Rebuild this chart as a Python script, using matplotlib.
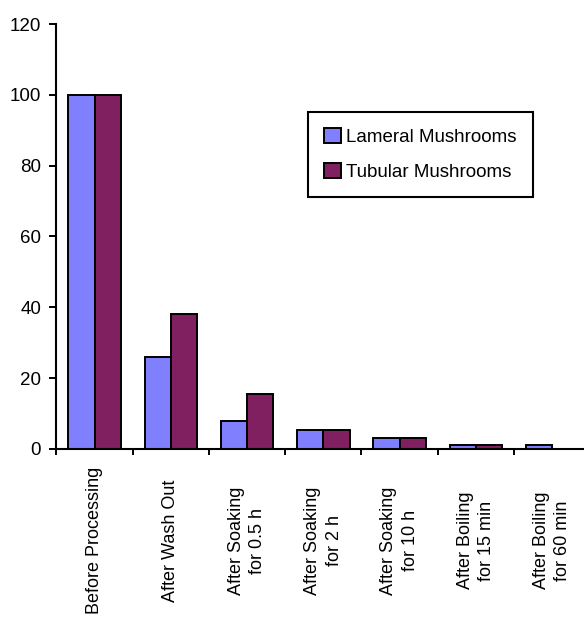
import matplotlib.pyplot as plt
import numpy as np

plt.rcParams['font.family'] = ['Liberation Sans', 'DejaVu Sans']
plt.rcParams['font.size'] = 13.5

stages = ["Before Processing", "After Wash Out", "After Soaking\nfor 0.5 h",
          "After Soaking\nfor 2 h", "After Soaking\nfor 10 h",
          "After Boiling\nfor 15 min", "After Boiling\nfor 60 min"]
lameral = [100, 26, 8, 5.3, 3, 1.1, 1.1]
tubular = [100, 38, 15.5, 5.3, 3, 1.1, 0]

fig = plt.figure(figsize=(5.84, 6.17), dpi=100)
ax = fig.add_axes([0.0967, 0.2723, 0.914, 0.6888])

x = np.arange(len(stages))
w = 0.345
ax.bar(x - w / 2, lameral, w, color="#8080ff", edgecolor="black", linewidth=1.4,
       label="Lameral Mushrooms")
ax.bar(x + w / 2, tubular, w, color="#802060", edgecolor="black", linewidth=1.4,
       label="Tubular Mushrooms")

ax.set_xlim(-0.5, len(stages) - 0.5)
ax.set_ylim(0, 120)
ax.set_yticks(range(0, 121, 20))

ax.set_xticks(x)
ax.set_xticklabels(stages, rotation=90, va="center", ha="center", multialignment="center",
                   fontsize=13, linespacing=1.35)
ax.set_xticks(np.arange(len(stages)) - 0.5, minor=True)
ax.tick_params(axis="x", which="major", length=0, pad=66)
ax.tick_params(axis="x", which="minor", length=4.5, width=1.4, direction="out")
ax.tick_params(axis="y", length=5, width=1.4, pad=6)

for s in ["top", "right"]:
    ax.spines[s].set_visible(False)
for s in ["left", "bottom"]:
    ax.spines[s].set_linewidth(1.5)
ax.spines["bottom"].set_clip_on(False)

leg = ax.legend(loc="upper left", bbox_to_anchor=(308 / 584, 1 - 112 / 617),
                bbox_transform=fig.transFigure, borderaxespad=0, fancybox=False,
                framealpha=1, edgecolor="black", handlelength=0.9, handleheight=0.85,
                handletextpad=0.3, borderpad=0.85, labelspacing=0.9)
leg.get_frame().set_linewidth(1.5)

fig.savefig("out.png", dpi=100)
